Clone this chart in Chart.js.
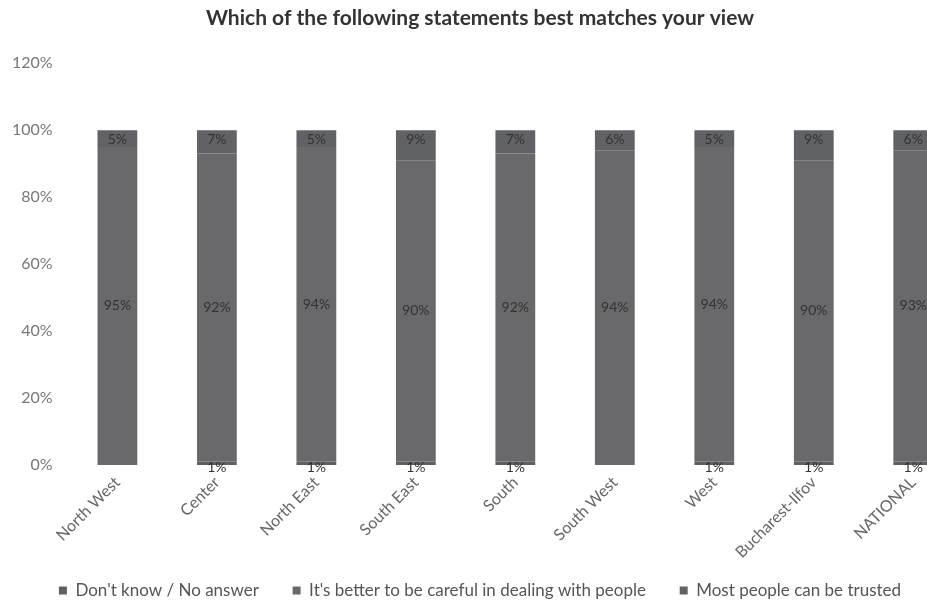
<!DOCTYPE html>
<html>
<head>
<meta charset="utf-8">
<script src="https://cdn.jsdelivr.net/npm/chart.js@4.4.1/dist/chart.umd.min.js"></script>
<style>
  html, body { margin:0; padding:0; background:#fff; overflow:hidden; }
  #wrap { width:980px; height:612px; position:relative; }
</style>
</head>
<body>
<div id="wrap"><canvas id="chart"></canvas></div>
<script>
const regions = ['North West','Center','North East','South East','South','South West','West','Bucharest-Ilfov','NATIONAL'];
const dontKnow = [0, 1, 1, 1, 1, 0, 1, 1, 1];
const careful  = [95, 92, 94, 90, 92, 94, 94, 90, 93];
const trusted  = [5, 7, 5, 9, 7, 6, 5, 9, 6];
const yTicks = [0, 20, 40, 60, 80, 100, 120];

const FONT = 'Lato, "Open Sans", sans-serif';

// draws the % labels on each segment
const segLabels = {
  id:'segLabels',
  afterDatasetsDraw(chart){
    const ctx = chart.ctx;
    ctx.save();
    ctx.font = '14px ' + FONT;
    ctx.fillStyle = '#333';
    ctx.textAlign = 'center';
    ctx.textBaseline = 'middle';
    chart.data.datasets.forEach((ds, di)=>{
      const meta = chart.getDatasetMeta(di);
      meta.data.forEach((bar, i)=>{
        const v = ds.data[i];
        if(!v) return;
        let y;
        if(di===0) y = bar.base + 3;          // at the bar foot
        else if(di===2) y = bar.y + 9;        // near the top
        else y = (bar.y + bar.base)/2;
        ctx.fillText(v + '%', bar.x, y);
      });
    });
    ctx.restore();
  }
};

new Chart(document.getElementById('chart'), {
  type:'bar',
  data:{
    labels: regions,
    datasets:[
      { label:"Don't know / No answer", data: dontKnow, backgroundColor:'#5f6063' },
      { label:"It's better to be careful in dealing with people", data: careful, backgroundColor:'#69696c' },
      { label:'Most people can be trusted', data: trusted, backgroundColor:'#616265' }
    ]
  },
  options:{
    responsive:true, maintainAspectRatio:false, animation:false,
    layout:{ padding:{ left:-3, right:17, top:0, bottom:3 } },
    datasets:{ bar:{ categoryPercentage:0.8, barPercentage:0.5 } },
    scales:{
      x:{
        stacked:true,
        grid:{ display:false, drawTicks:false }, border:{ display:false },
        ticks:{ color:'#666', font:{ family:FONT, size:16 }, maxRotation:45, minRotation:45, padding:8 },
        afterFit:(s)=>{ s.paddingLeft = 0; s.paddingRight = 0; }
      },
      y:{
        stacked:true, min:0, max:120,
        afterBuildTicks:(axis)=>{ axis.ticks = yTicks.map(v=>({ value:v })); },
        grid:{ display:false, drawTicks:false }, border:{ display:false },
        ticks:{ color:'#777', font:{ family:FONT, size:16 }, padding:15, callback:(v)=> v + '%' }
      }
    },
    plugins:{
      title:{
        display:true,
        text:'Which of the following statements best matches your view',
        color:'#333',
        font:{ family:FONT, size:21, weight:'bold' },
        padding:{ top:6, bottom:32 }
      },
      legend:{
        position:'bottom',
        labels:{
          color:'#555', font:{ family:FONT, size:17 }, boxWidth:8, boxHeight:8, padding:12,
          // widen the gap between items without adding vertical room
          generateLabels:(chart)=>{
            const items = Chart.defaults.plugins.legend.labels.generateLabels(chart);
            items.forEach((it, i)=>{ if(i < items.length-1) it.text += '     '; });
            return items;
          }
        }
      },
      tooltip:{ enabled:false }
    }
  },
  plugins:[segLabels]
});
</script>
</body>
</html>
